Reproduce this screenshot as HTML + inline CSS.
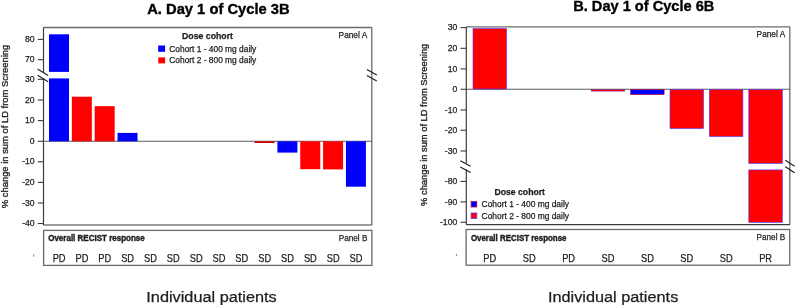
<!DOCTYPE html>
<html><head><meta charset="utf-8"><title>Waterfall</title>
<style>
html,body{margin:0;padding:0;background:#fff;width:796px;height:305px;overflow:hidden}
svg{display:block;font-family:"Liberation Sans", sans-serif}
</style></head><body>
<div style="will-change:transform;width:796px;height:305px"><svg width="796" height="305" viewBox="0 0 796 305">
<rect width="796" height="305" fill="#fff"/>
<text x="147.2" y="13.5" font-size="14.2" text-anchor="start" font-weight="bold" textLength="142.4" lengthAdjust="spacingAndGlyphs" fill="#000" stroke="#000" stroke-width="0.35">A. Day 1 of Cycle 3B</text>
<line x1="43.5" y1="27.5" x2="371.8" y2="27.5" stroke="#6a6a6a" stroke-width="1.3"/>
<line x1="371.8" y1="27.5" x2="371.8" y2="225.0" stroke="#6a6a6a" stroke-width="1.3"/>
<line x1="43.5" y1="225.0" x2="371.8" y2="225.0" stroke="#3c3c3c" stroke-width="1.2"/>
<line x1="43.5" y1="27.5" x2="43.5" y2="72.6" stroke="#3c3c3c" stroke-width="1.2"/>
<line x1="43.5" y1="78.6" x2="43.5" y2="225.0" stroke="#3c3c3c" stroke-width="1.2"/>
<line x1="43.5" y1="141.3" x2="371.8" y2="141.3" stroke="#5a5a5a" stroke-width="1.1"/>
<line x1="37.8" y1="39.4" x2="43.5" y2="39.4" stroke="#3c3c3c" stroke-width="1.1"/>
<text x="34.6" y="42.0" font-size="8.6" text-anchor="end" fill="#1e1e1e" stroke="#1e1e1e" stroke-width="0.25">80</text>
<line x1="37.8" y1="59.7" x2="43.5" y2="59.7" stroke="#3c3c3c" stroke-width="1.1"/>
<text x="34.6" y="62.3" font-size="8.6" text-anchor="end" fill="#1e1e1e" stroke="#1e1e1e" stroke-width="0.25">70</text>
<line x1="37.8" y1="79.3" x2="43.5" y2="79.3" stroke="#3c3c3c" stroke-width="1.1"/>
<text x="34.6" y="81.9" font-size="8.6" text-anchor="end" fill="#1e1e1e" stroke="#1e1e1e" stroke-width="0.25">30</text>
<line x1="37.8" y1="100.0" x2="43.5" y2="100.0" stroke="#3c3c3c" stroke-width="1.1"/>
<text x="34.6" y="102.6" font-size="8.6" text-anchor="end" fill="#1e1e1e" stroke="#1e1e1e" stroke-width="0.25">20</text>
<line x1="37.8" y1="120.6" x2="43.5" y2="120.6" stroke="#3c3c3c" stroke-width="1.1"/>
<text x="34.6" y="123.2" font-size="8.6" text-anchor="end" fill="#1e1e1e" stroke="#1e1e1e" stroke-width="0.25">10</text>
<line x1="37.8" y1="141.3" x2="43.5" y2="141.3" stroke="#3c3c3c" stroke-width="1.1"/>
<text x="34.6" y="143.9" font-size="8.6" text-anchor="end" fill="#1e1e1e" stroke="#1e1e1e" stroke-width="0.25">0</text>
<line x1="37.8" y1="161.8" x2="43.5" y2="161.8" stroke="#3c3c3c" stroke-width="1.1"/>
<text x="34.6" y="164.4" font-size="8.6" text-anchor="end" fill="#1e1e1e" stroke="#1e1e1e" stroke-width="0.25">-10</text>
<line x1="37.8" y1="182.4" x2="43.5" y2="182.4" stroke="#3c3c3c" stroke-width="1.1"/>
<text x="34.6" y="185.0" font-size="8.6" text-anchor="end" fill="#1e1e1e" stroke="#1e1e1e" stroke-width="0.25">-20</text>
<line x1="37.8" y1="203.0" x2="43.5" y2="203.0" stroke="#3c3c3c" stroke-width="1.1"/>
<text x="34.6" y="205.6" font-size="8.6" text-anchor="end" fill="#1e1e1e" stroke="#1e1e1e" stroke-width="0.25">-30</text>
<line x1="37.8" y1="223.5" x2="43.5" y2="223.5" stroke="#3c3c3c" stroke-width="1.1"/>
<text x="34.6" y="226.1" font-size="8.6" text-anchor="end" fill="#1e1e1e" stroke="#1e1e1e" stroke-width="0.25">-40</text>
<line x1="37.6" y1="69.1" x2="48.1" y2="75.4" stroke="#222" stroke-width="1.2"/>
<line x1="37.6" y1="75.2" x2="48.1" y2="81.7" stroke="#222" stroke-width="1.2"/>
<line x1="366.9" y1="69.4" x2="376.8" y2="75.0" stroke="#222" stroke-width="1.2"/>
<line x1="366.9" y1="75.4" x2="376.8" y2="80.9" stroke="#222" stroke-width="1.2"/>
<rect x="49.00" y="34.30" width="20.00" height="37.60" fill="#0000ff"/>
<rect x="49.00" y="78.40" width="20.00" height="62.90" fill="#0000ff"/>
<rect x="71.84" y="96.70" width="20.00" height="44.60" fill="#ff0000"/>
<rect x="94.68" y="106.20" width="20.00" height="35.10" fill="#ff0000"/>
<rect x="117.52" y="132.90" width="20.00" height="8.40" fill="#0000ff"/>
<rect x="254.56" y="141.30" width="20.00" height="1.70" fill="#d00000"/>
<rect x="277.40" y="141.30" width="20.00" height="11.30" fill="#0000ff"/>
<rect x="300.24" y="141.30" width="20.00" height="27.90" fill="#ff0000"/>
<rect x="323.08" y="141.30" width="20.00" height="28.10" fill="#ff0000"/>
<rect x="345.92" y="141.30" width="20.00" height="45.40" fill="#0000ff"/>
<text x="182" y="39.1" font-size="8.7" text-anchor="start" font-weight="bold" textLength="51.0" lengthAdjust="spacingAndGlyphs" fill="#1e1e1e" stroke="#1e1e1e" stroke-width="0.25">Dose cohort</text>
<rect x="158.20" y="45.50" width="6.90" height="6.30" fill="#0000ff"/>
<rect x="158.30" y="57.40" width="6.80" height="6.00" fill="#ff0000"/>
<text x="169.3" y="51.7" font-size="8.3" text-anchor="start" textLength="87.0" lengthAdjust="spacingAndGlyphs" fill="#1e1e1e" stroke="#1e1e1e" stroke-width="0.25">Cohort 1 - 400 mg daily</text>
<text x="169.3" y="62.9" font-size="8.3" text-anchor="start" textLength="87.0" lengthAdjust="spacingAndGlyphs" fill="#1e1e1e" stroke="#1e1e1e" stroke-width="0.25">Cohort 2 - 800 mg daily</text>
<text x="367.2" y="38.2" font-size="8.8" text-anchor="end" textLength="28.6" lengthAdjust="spacingAndGlyphs" fill="#1e1e1e" stroke="#1e1e1e" stroke-width="0.25">Panel A</text>
<rect x="43.6" y="230.4" width="328.3" height="35.0" fill="none" stroke="#6a6a6a" stroke-width="1.3"/>
<text x="48.2" y="240.7" font-size="8.5" text-anchor="start" font-weight="bold" textLength="96.6" lengthAdjust="spacingAndGlyphs" fill="#1e1e1e" stroke="#1e1e1e" stroke-width="0.42">Overall RECIST response</text>
<text x="367.4" y="240.8" font-size="8.6" text-anchor="end" textLength="28.6" lengthAdjust="spacingAndGlyphs" fill="#1e1e1e" stroke="#1e1e1e" stroke-width="0.25">Panel B</text>
<text x="59.1" y="261.8" font-size="10.2" text-anchor="middle" textLength="12.9" lengthAdjust="spacingAndGlyphs" fill="#1e1e1e" stroke="#1e1e1e" stroke-width="0.25">PD</text>
<text x="81.94" y="261.8" font-size="10.2" text-anchor="middle" textLength="12.9" lengthAdjust="spacingAndGlyphs" fill="#1e1e1e" stroke="#1e1e1e" stroke-width="0.25">PD</text>
<text x="104.78" y="261.8" font-size="10.2" text-anchor="middle" textLength="12.9" lengthAdjust="spacingAndGlyphs" fill="#1e1e1e" stroke="#1e1e1e" stroke-width="0.25">PD</text>
<text x="127.62" y="261.8" font-size="10.2" text-anchor="middle" textLength="12.9" lengthAdjust="spacingAndGlyphs" fill="#1e1e1e" stroke="#1e1e1e" stroke-width="0.25">SD</text>
<text x="150.46" y="261.8" font-size="10.2" text-anchor="middle" textLength="12.9" lengthAdjust="spacingAndGlyphs" fill="#1e1e1e" stroke="#1e1e1e" stroke-width="0.25">SD</text>
<text x="173.3" y="261.8" font-size="10.2" text-anchor="middle" textLength="12.9" lengthAdjust="spacingAndGlyphs" fill="#1e1e1e" stroke="#1e1e1e" stroke-width="0.25">SD</text>
<text x="196.14" y="261.8" font-size="10.2" text-anchor="middle" textLength="12.9" lengthAdjust="spacingAndGlyphs" fill="#1e1e1e" stroke="#1e1e1e" stroke-width="0.25">SD</text>
<text x="218.98" y="261.8" font-size="10.2" text-anchor="middle" textLength="12.9" lengthAdjust="spacingAndGlyphs" fill="#1e1e1e" stroke="#1e1e1e" stroke-width="0.25">SD</text>
<text x="241.82" y="261.8" font-size="10.2" text-anchor="middle" textLength="12.9" lengthAdjust="spacingAndGlyphs" fill="#1e1e1e" stroke="#1e1e1e" stroke-width="0.25">SD</text>
<text x="264.66" y="261.8" font-size="10.2" text-anchor="middle" textLength="12.9" lengthAdjust="spacingAndGlyphs" fill="#1e1e1e" stroke="#1e1e1e" stroke-width="0.25">SD</text>
<text x="287.5" y="261.8" font-size="10.2" text-anchor="middle" textLength="12.9" lengthAdjust="spacingAndGlyphs" fill="#1e1e1e" stroke="#1e1e1e" stroke-width="0.25">SD</text>
<text x="310.34" y="261.8" font-size="10.2" text-anchor="middle" textLength="12.9" lengthAdjust="spacingAndGlyphs" fill="#1e1e1e" stroke="#1e1e1e" stroke-width="0.25">SD</text>
<text x="333.18" y="261.8" font-size="10.2" text-anchor="middle" textLength="12.9" lengthAdjust="spacingAndGlyphs" fill="#1e1e1e" stroke="#1e1e1e" stroke-width="0.25">SD</text>
<text x="356.02" y="261.8" font-size="10.2" text-anchor="middle" textLength="12.9" lengthAdjust="spacingAndGlyphs" fill="#1e1e1e" stroke="#1e1e1e" stroke-width="0.25">SD</text>
<text x="146.3" y="301.6" font-size="15.2" text-anchor="start" textLength="130.4" lengthAdjust="spacingAndGlyphs" fill="#1e1e1e" stroke="#1e1e1e" stroke-width="0.25">Individual patients</text>
<text transform="translate(8.4,208.2) rotate(-90)" font-size="8.6" textLength="163.5" lengthAdjust="spacingAndGlyphs" fill="#1e1e1e" stroke="#1e1e1e" stroke-width="0.32">% change in sum of LD from Screening</text>
<rect x="33.2" y="254.5" width="0.9" height="2.2" fill="#777"/>
<text x="573.2" y="11.4" font-size="14.2" text-anchor="start" font-weight="bold" textLength="141.2" lengthAdjust="spacingAndGlyphs" fill="#000" stroke="#000" stroke-width="0.35">B. Day 1 of Cycle 6B</text>
<line x1="466.3" y1="26.8" x2="789.8" y2="26.8" stroke="#6a6a6a" stroke-width="1.3"/>
<line x1="789.8" y1="26.8" x2="789.8" y2="224.7" stroke="#6a6a6a" stroke-width="1.3"/>
<line x1="466.3" y1="224.7" x2="789.8" y2="224.7" stroke="#3c3c3c" stroke-width="1.3"/>
<line x1="466.3" y1="26.8" x2="466.3" y2="163.3" stroke="#3c3c3c" stroke-width="1.2"/>
<line x1="466.3" y1="169.6" x2="466.3" y2="224.7" stroke="#3c3c3c" stroke-width="1.2"/>
<line x1="466.3" y1="89.3" x2="789.8" y2="89.3" stroke="#5a5a5a" stroke-width="1.1"/>
<line x1="460.5" y1="27.6" x2="466.3" y2="27.6" stroke="#3c3c3c" stroke-width="1.1"/>
<text x="457.2" y="30.2" font-size="8.6" text-anchor="end" fill="#1e1e1e" stroke="#1e1e1e" stroke-width="0.25">30</text>
<line x1="460.5" y1="48.3" x2="466.3" y2="48.3" stroke="#3c3c3c" stroke-width="1.1"/>
<text x="457.2" y="50.9" font-size="8.6" text-anchor="end" fill="#1e1e1e" stroke="#1e1e1e" stroke-width="0.25">20</text>
<line x1="460.5" y1="68.9" x2="466.3" y2="68.9" stroke="#3c3c3c" stroke-width="1.1"/>
<text x="457.2" y="71.5" font-size="8.6" text-anchor="end" fill="#1e1e1e" stroke="#1e1e1e" stroke-width="0.25">10</text>
<line x1="460.5" y1="89.3" x2="466.3" y2="89.3" stroke="#3c3c3c" stroke-width="1.1"/>
<text x="457.2" y="91.9" font-size="8.6" text-anchor="end" fill="#1e1e1e" stroke="#1e1e1e" stroke-width="0.25">0</text>
<line x1="460.5" y1="110.0" x2="466.3" y2="110.0" stroke="#3c3c3c" stroke-width="1.1"/>
<text x="457.2" y="112.6" font-size="8.6" text-anchor="end" fill="#1e1e1e" stroke="#1e1e1e" stroke-width="0.25">-10</text>
<line x1="460.5" y1="130.2" x2="466.3" y2="130.2" stroke="#3c3c3c" stroke-width="1.1"/>
<text x="457.2" y="132.8" font-size="8.6" text-anchor="end" fill="#1e1e1e" stroke="#1e1e1e" stroke-width="0.25">-20</text>
<line x1="460.5" y1="151.0" x2="466.3" y2="151.0" stroke="#3c3c3c" stroke-width="1.1"/>
<text x="457.2" y="153.6" font-size="8.6" text-anchor="end" fill="#1e1e1e" stroke="#1e1e1e" stroke-width="0.25">-30</text>
<line x1="460.5" y1="181.4" x2="466.3" y2="181.4" stroke="#3c3c3c" stroke-width="1.1"/>
<text x="457.2" y="184.0" font-size="8.6" text-anchor="end" fill="#1e1e1e" stroke="#1e1e1e" stroke-width="0.25">-80</text>
<line x1="460.5" y1="201.9" x2="466.3" y2="201.9" stroke="#3c3c3c" stroke-width="1.1"/>
<text x="457.2" y="204.5" font-size="8.6" text-anchor="end" fill="#1e1e1e" stroke="#1e1e1e" stroke-width="0.25">-90</text>
<line x1="460.5" y1="222.3" x2="466.3" y2="222.3" stroke="#3c3c3c" stroke-width="1.1"/>
<text x="457.2" y="224.9" font-size="8.6" text-anchor="end" fill="#1e1e1e" stroke="#1e1e1e" stroke-width="0.25">-100</text>
<line x1="460.3" y1="160.8" x2="470.6" y2="166.2" stroke="#222" stroke-width="1.2"/>
<line x1="460.3" y1="166.9" x2="470.6" y2="172.6" stroke="#222" stroke-width="1.2"/>
<line x1="785.3" y1="160.3" x2="794.6" y2="166.2" stroke="#222" stroke-width="1.2"/>
<line x1="785.3" y1="166.7" x2="794.6" y2="172.8" stroke="#222" stroke-width="1.2"/>
<rect x="473.00" y="28.60" width="33.50" height="60.40" fill="#ff0000" stroke="#4a30ff" stroke-width="0.6"/>
<rect x="591.20" y="89.60" width="33.50" height="1.50" fill="#ff0000" stroke="#7a2090" stroke-width="0.6"/>
<rect x="630.60" y="89.60" width="33.50" height="5.00" fill="#0000ff" stroke="#c00030" stroke-width="0.6"/>
<rect x="670.00" y="89.60" width="33.50" height="38.90" fill="#ff0000" stroke="#4a30ff" stroke-width="0.6"/>
<rect x="709.40" y="89.60" width="33.50" height="46.90" fill="#ff0000" stroke="#4a30ff" stroke-width="0.6"/>
<rect x="748.80" y="89.60" width="33.50" height="73.70" fill="#ff0000" stroke="#4a30ff" stroke-width="0.6"/>
<rect x="748.80" y="169.90" width="33.50" height="52.40" fill="#ff0000" stroke="#4a30ff" stroke-width="0.6"/>
<text x="494.4" y="194.8" font-size="8.7" text-anchor="start" font-weight="bold" textLength="50.6" lengthAdjust="spacingAndGlyphs" fill="#1e1e1e" stroke="#1e1e1e" stroke-width="0.25">Dose cohort</text>
<rect x="471.10" y="201.50" width="5.70" height="5.50" fill="#0000ff" stroke="#b01050" stroke-width="0.8"/>
<rect x="471.10" y="213.00" width="5.70" height="5.50" fill="#ff0000" stroke="#6040e0" stroke-width="0.8"/>
<text x="481.6" y="206.8" font-size="8.3" text-anchor="start" textLength="87.4" lengthAdjust="spacingAndGlyphs" fill="#1e1e1e" stroke="#1e1e1e" stroke-width="0.25">Cohort 1 - 400 mg daily</text>
<text x="481.6" y="218.8" font-size="8.3" text-anchor="start" textLength="87.4" lengthAdjust="spacingAndGlyphs" fill="#1e1e1e" stroke="#1e1e1e" stroke-width="0.25">Cohort 2 - 800 mg daily</text>
<text x="785.2" y="36.9" font-size="8.8" text-anchor="end" textLength="28.6" lengthAdjust="spacingAndGlyphs" fill="#1e1e1e" stroke="#1e1e1e" stroke-width="0.25">Panel A</text>
<rect x="466.1" y="229.5" width="323.6" height="35.7" fill="none" stroke="#6a6a6a" stroke-width="1.3"/>
<text x="470.9" y="240.5" font-size="8.5" text-anchor="start" font-weight="bold" textLength="95.6" lengthAdjust="spacingAndGlyphs" fill="#1e1e1e" stroke="#1e1e1e" stroke-width="0.42">Overall RECIST response</text>
<text x="785.2" y="240.4" font-size="8.6" text-anchor="end" textLength="28.6" lengthAdjust="spacingAndGlyphs" fill="#1e1e1e" stroke="#1e1e1e" stroke-width="0.25">Panel B</text>
<text x="489.8" y="261.6" font-size="10.2" text-anchor="middle" textLength="12.9" lengthAdjust="spacingAndGlyphs" fill="#1e1e1e" stroke="#1e1e1e" stroke-width="0.25">PD</text>
<text x="529.2" y="261.6" font-size="10.2" text-anchor="middle" textLength="12.9" lengthAdjust="spacingAndGlyphs" fill="#1e1e1e" stroke="#1e1e1e" stroke-width="0.25">SD</text>
<text x="568.6" y="261.6" font-size="10.2" text-anchor="middle" textLength="12.9" lengthAdjust="spacingAndGlyphs" fill="#1e1e1e" stroke="#1e1e1e" stroke-width="0.25">PD</text>
<text x="608.0" y="261.6" font-size="10.2" text-anchor="middle" textLength="12.9" lengthAdjust="spacingAndGlyphs" fill="#1e1e1e" stroke="#1e1e1e" stroke-width="0.25">SD</text>
<text x="647.4" y="261.6" font-size="10.2" text-anchor="middle" textLength="12.9" lengthAdjust="spacingAndGlyphs" fill="#1e1e1e" stroke="#1e1e1e" stroke-width="0.25">SD</text>
<text x="686.8" y="261.6" font-size="10.2" text-anchor="middle" textLength="12.9" lengthAdjust="spacingAndGlyphs" fill="#1e1e1e" stroke="#1e1e1e" stroke-width="0.25">SD</text>
<text x="726.2" y="261.6" font-size="10.2" text-anchor="middle" textLength="12.9" lengthAdjust="spacingAndGlyphs" fill="#1e1e1e" stroke="#1e1e1e" stroke-width="0.25">SD</text>
<text x="765.6" y="261.6" font-size="10.2" text-anchor="middle" textLength="12.9" lengthAdjust="spacingAndGlyphs" fill="#1e1e1e" stroke="#1e1e1e" stroke-width="0.25">PR</text>
<text x="547.9" y="301.6" font-size="15.2" text-anchor="start" textLength="130.4" lengthAdjust="spacingAndGlyphs" fill="#1e1e1e" stroke="#1e1e1e" stroke-width="0.25">Individual patients</text>
<text transform="translate(427.3,205.9) rotate(-90)" font-size="8.6" textLength="162.2" lengthAdjust="spacingAndGlyphs" fill="#1e1e1e" stroke="#1e1e1e" stroke-width="0.32">% change in sum of LD from Screening</text>
<rect x="455.9" y="253.8" width="0.9" height="2.2" fill="#777"/>
</svg></div>
</body></html>
